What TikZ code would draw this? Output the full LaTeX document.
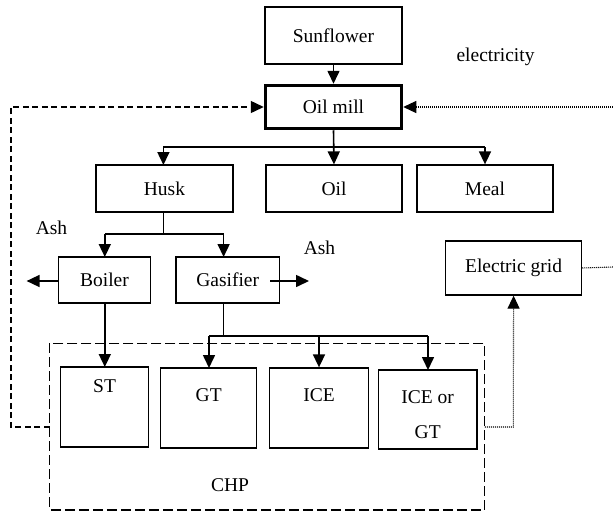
\documentclass[tikz,border=0pt]{standalone}
\usepackage{fontspec}
\setmainfont{Liberation Serif}
\usetikzlibrary{arrows.meta}
\begin{document}
\begin{tikzpicture}[x=1pt,y=-1pt,
  every node/.style={font=\fontsize{19.5}{22}\selectfont},
  box/.style={draw, line width=1.3pt, inner sep=0pt, minimum height=47pt},
  txt/.style={inner sep=0pt, anchor=center},
  tip/.tip={Triangle[length=13pt,width=12pt]},
  arr/.style={line width=1.6pt, -tip},
  ln/.style={line width=1.6pt},
  fb/.style={line width=1.4pt, dash pattern=on 6pt off 3.5pt, -tip},
  dot/.style={line width=1.1pt, dash pattern=on 1pt off 1pt},
  dotarr/.style={dot, -tip}]
\useasboundingbox (0,0) rectangle (613,512);
% boxes
\node[box, minimum width=137pt, minimum height=57pt] (sun) at (333.5,35.5) {Sunflower};
\node[box, line width=3.5pt, minimum width=136pt, minimum height=43pt] (mill) at (333.5,107) {Oil mill};
\node[box, minimum width=137pt] (husk) at (164.5,188.5) {Husk};
\node[box, minimum width=136pt] (oil) at (334,188.5) {Oil};
\node[box, minimum width=136pt] (meal) at (485,188.5) {Meal};
\node[box, minimum width=92pt, minimum height=46pt] (boiler) at (104.5,280) {Boiler};
\node[box, minimum width=103.5pt, minimum height=46pt] (gasif) at (227.7,280) {Gasifier};
\node[box, minimum width=136pt, minimum height=54pt] (grid) at (513.6,268) {Electric grid};
\node[box, minimum width=88pt, minimum height=80pt] (st) at (104.6,407) {};
\node[box, minimum width=96pt, minimum height=80pt] (gt) at (208.7,408) {};
\node[box, minimum width=98.6pt, minimum height=80pt] (ice) at (319,408) {};
\node[box, minimum width=98.6pt, minimum height=79pt] (icegt) at (427.7,409.5) {};
\node[txt] (stt) at (104.6,386) {ST};
\node[txt] (gtt) at (208.7,395) {GT};
\node[txt] (icet) at (319,395.5) {ICE};
\node[txt] (icegt1) at (427.7,397) {ICE or};
\node[txt] (icegt2) at (427.7,432) {GT};
% CHP dashed frame
\draw[line width=1.3pt, dash pattern=on 10pt off 4pt] (49.6,343.3) rectangle (484.8,510);
\coordinate (chpL) at (49.6,427);
\coordinate (chpR) at (484.8,427);
\node[txt] (chp) at (230,485) {CHP};
% labels
\node[txt] (elec) at (495.5,57) {electricity};
\node[txt] (ash1) at (51.5,228) {Ash};
\node[txt] (ash2) at (319.5,248) {Ash};
% connectors
\draw[arr] (sun.south) -- (mill.north);
\coordinate (s1) at (333.5,147);
\draw[ln] (163.4,147) -- (485,147);
\draw[arr] (mill.south) -- (oil.north);
\draw[arr] (163.4,147) -- (163.4,165);
\draw[arr] (meal.north |- s1) -- (meal.north);
\coordinate (s2) at (163.4,234);
\draw[ln] (163.4,212) -- (s2);
\draw[ln] (104.8,234) -- (223.6,234);
\draw[arr] (104.8,234) -- (104.8,257);
\draw[arr] (223.6,234) -- (223.6,257);
\coordinate (ashL) at (26.6,281);
\coordinate (gasin) at (270,281);
\coordinate (ashR) at (309,281);
\draw[arr] (boiler.west |- ashL) -- (ashL);
\draw[arr] (gasin) -- (ashR);
\draw[arr] (104.8,303) -- (104.8,367);
\coordinate (s3) at (223.6,336);
\draw[ln] (223.6,303) -- (s3);
\draw[ln] (209,336) -- (428,336);
\draw[arr] (209,336) -- (209,368);
\draw[arr] (ice.north |- s3) -- (ice.north);
\draw[arr] (428,336) -- (428,370);
% feedback loops
\coordinate (fbL) at (11,427);
\draw[fb] (chpL) -- (fbL) -- (fbL |- mill.west) -- (mill.west);
\coordinate (fbR) at (513.3,427);
\draw[dotarr] (chpR) -- (fbR) -- (grid.south);
\coordinate (edgeG) at (613,267);
\draw[dot] (grid.east) -- (edgeG);
\coordinate (edgeM) at (613,107);
\draw[dotarr] (edgeM) -- (mill.east);
\end{tikzpicture}
\end{document}
